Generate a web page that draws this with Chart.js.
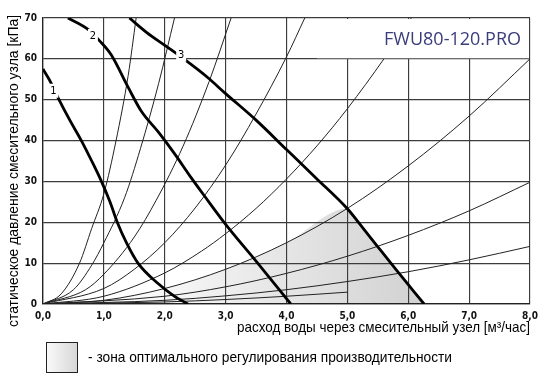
<!DOCTYPE html>
<html>
<head>
<meta charset="utf-8">
<script src="https://cdn.jsdelivr.net/npm/chart.js@4"></script>
<style>
  body { margin: 0; background: #fff; }
</style>
</head>
<body>
<canvas id="graphique" width="550" height="384"></canvas>
<script>
// Axes
const xTicks = [0, 1, 2, 3, 4, 5, 6, 7, 8];
const yTicks = [0, 10, 20, 30, 40, 50, 60, 70];

// Courbes du module (traits épais) 1, 2, 3
const courbe1X = [0.0, 0.1, 0.25, 0.44, 0.63, 0.8, 0.96, 1.1, 1.22, 1.37, 1.56, 1.89, 2.15, 2.38];
const courbe1Y = [57.5, 55, 50.4, 45, 40, 35, 30, 25, 20, 15, 10, 5, 2, 0];
const courbe2X = [0.41, 0.74, 0.93, 1.12, 1.4, 1.61, 1.9, 2.16, 2.43, 2.65, 3.0, 3.5, 4.07];
const courbe2Y = [70, 67.2, 64.4, 61, 53, 47.3, 42, 36.8, 31, 26.5, 19.5, 10.5, 0];
const courbe3X = [1.42, 1.7, 2.05, 2.4, 2.7, 3.0, 3.5, 4.0, 4.5, 5.0, 5.25, 5.5, 5.8, 6.26];
const courbe3Y = [70, 66.5, 62.8, 59, 55.5, 51.5, 45, 37.8, 30.6, 23.3, 18.7, 14, 8.4, 0];

// Courbes du réseau (traits fins)
const reseauAX = [0, 0.3, 0.6, 0.8, 1.0, 1.2, 1.4, 1.53];
const reseauAY = [0, 2.5, 10, 18.5, 27, 40, 56, 70];
const reseauBX = [0, 0.5, 0.8, 1.0, 1.34, 1.6, 1.9, 2.16];
const reseauBY = [0, 3.5, 9.5, 15, 26, 38, 54, 70];
const reseauCX = [0, 0.7, 1.0, 1.5, 1.86, 2.3, 2.73, 3.09];
const reseauCY = [0, 3.5, 7.3, 16.4, 25.4, 38.6, 54.5, 70];
const reseauDX = [0, 1, 1.5, 2, 2.5, 3, 3.5, 4, 4.3];
const reseauDY = [0, 3.8, 8.5, 15, 23.5, 34, 46.5, 60.5, 70];
const reseauEX = [0, 1, 2, 2.6, 3, 3.5, 4, 4.5, 5, 5.6, 6.05];
const reseauEY = [0, 1.9, 7.6, 12.9, 17.2, 23.4, 30.6, 38.7, 47.8, 60, 70];
const reseauFX = [0, 1, 2, 3, 4, 5, 6, 7, 8];
const reseauFY = [0, 0.9, 3.8, 8.5, 15, 23.4, 33.8, 46, 60];
const reseauGX = [0, 2, 3, 4, 5, 6, 7, 8];
const reseauGY = [0, 1.9, 4.2, 7.5, 11.7, 16.8, 22.8, 29.8];
const reseauHX = [0, 2, 3, 4, 5, 6, 7, 8];
const reseauHY = [0, 0.9, 2, 3.5, 5.5, 7.9, 10.8, 14.1];
const reseauIX = [0, 2, 3, 4, 5];
const reseauIY = [0, 0.5, 1.1, 1.9, 2.9];

// Numéros des courbes [x, y, texte]
const numerosCourbes = [[0.17, 52.2, '1'], [0.82, 65.6, '2'], [2.27, 61, '3']];

const titreModele = 'FWU80-120.PRO';
const titreX = 'расход воды через смесительный узел [м³/час]';
const titreY = 'статическое давление смесительного узла [кПа]';
const texteLegende = '- зона оптимального регулирования производительности';

const policeEtroite = '"DejaVu Sans Condensed", "Liberation Sans", sans-serif';

function points(xs, ys) {
    return xs.map((x, i) => ({ x: x, y: ys[i] }));
}

// zone grisée : sous la courbe F jusqu'à la courbe 3
const zoneOptimale = points(reseauFX, reseauFY).filter(p => p.x <= 5)
    .concat(points(courbe3X, courbe3Y).filter(p => p.x > 5));

function fin(xs, ys) {
    return {
        data: points(xs, ys), borderColor: '#222', borderWidth: 1,
        pointRadius: 0, cubicInterpolationMode: 'monotone', fill: false, order: 5
    };
}
function epais(xs, ys) {
    return {
        data: points(xs, ys), borderColor: '#000', borderWidth: 2.8,
        pointRadius: 0, cubicInterpolationMode: 'monotone', fill: false, order: 1
    };
}

const datasets = [
    {
        data: zoneOptimale, borderWidth: 0, pointRadius: 0, cubicInterpolationMode: 'monotone',
        fill: 'origin', order: 10,
        backgroundColor: function (context) {
            const chart = context.chart;
            const ca = chart.chartArea;
            if (!ca) return '#e0e0e0';
            const xs = chart.scales.x;
            const g = chart.ctx.createLinearGradient(xs.getPixelForValue(1.5), 0, xs.getPixelForValue(6.2), 0);
            g.addColorStop(0, '#fbfbfb');
            g.addColorStop(1, '#d2d2d2');
            return g;
        }
    },
    fin(reseauAX, reseauAY), fin(reseauBX, reseauBY), fin(reseauCX, reseauCY),
    fin(reseauDX, reseauDY), fin(reseauEX, reseauEY), fin(reseauFX, reseauFY),
    fin(reseauGX, reseauGY), fin(reseauHX, reseauHY), fin(reseauIX, reseauIY),
    epais(courbe1X, courbe1Y), epais(courbe2X, courbe2Y), epais(courbe3X, courbe3Y)
];

// texte écrit en largeur imposée (police étroite)
function texteAjuste(ctx, txt, largeur, align) {
    const k = largeur / ctx.measureText(txt).width;
    ctx.scale(k, 1);
    ctx.textAlign = align;
    ctx.fillText(txt, 0, 0);
}

const decor = {
    id: 'decor',
    afterDatasetsDraw(chart) {
        const { ctx, chartArea } = chart;
        const xs = chart.scales.x, ys = chart.scales.y;
        ctx.save();
        // cadre blanc du titre en haut à droite
        const x0 = xs.getPixelForValue(4.5);
        const yHaut = ys.getPixelForValue(70), yBas = ys.getPixelForValue(60);
        ctx.fillStyle = '#fff';
        ctx.fillRect(x0, yHaut + 1, chartArea.right - 1 - x0, yBas - yHaut - 1.6);
        ctx.fillStyle = '#3a3d7a';
        ctx.font = '18px "Open Sans", sans-serif';
        ctx.textAlign = 'right';
        ctx.textBaseline = 'middle';
        ctx.fillText(titreModele, chartArea.right - 9, (yHaut + yBas) / 2 + 1);

        // numéros des courbes
        ctx.font = '11px ' + policeEtroite;
        ctx.textAlign = 'center';
        numerosCourbes.forEach(n => {
            const px = xs.getPixelForValue(n[0]), py = ys.getPixelForValue(n[1]);
            ctx.fillStyle = '#fff';
            ctx.fillRect(px - 5, py - 7, 10, 14);
            ctx.fillStyle = '#000';
            ctx.fillText(n[2], px, py);
        });
        ctx.restore();
    },
    afterDraw(chart) {
        const { ctx, chartArea } = chart;
        ctx.save();
        ctx.fillStyle = '#000';
        ctx.font = '15px "Liberation Sans", sans-serif';
        ctx.textBaseline = 'middle';
        // titre axe Y
        ctx.translate(14, 171);
        ctx.rotate(-Math.PI / 2);
        texteAjuste(ctx, titreY, 312, 'center');
        ctx.restore();

        ctx.save();
        ctx.fillStyle = '#000';
        ctx.font = '15px "Liberation Sans", sans-serif';
        ctx.textBaseline = 'middle';
        ctx.translate(chartArea.right, 328);
        texteAjuste(ctx, titreX, 293, 'right');
        ctx.restore();

        // légende
        ctx.save();
        const g = ctx.createLinearGradient(46, 0, 78, 0);
        g.addColorStop(0, '#fafafa');
        g.addColorStop(1, '#d6d6d6');
        ctx.fillStyle = g;
        ctx.fillRect(46.5, 342.5, 31, 30);
        ctx.strokeStyle = '#222';
        ctx.lineWidth = 1;
        ctx.strokeRect(46.5, 342.5, 31, 30);
        ctx.fillStyle = '#000';
        ctx.font = '15px "Liberation Sans", sans-serif';
        ctx.textBaseline = 'middle';
        ctx.translate(88, 358);
        texteAjuste(ctx, texteLegende, 364, 'left');
        ctx.restore();
    }
};

const myChart = new Chart(document.getElementById('graphique').getContext('2d'), {
    type: 'line',
    data: { datasets: datasets },
    options: {
        responsive: false,
        animation: false,
        layout: { padding: { left: 0, top: 18, right: 20, bottom: 60 } },
        plugins: {
            legend: { display: false },
            tooltip: { enabled: false },
            filler: { drawTime: 'beforeDraw' }
        },
        scales: {
            x: {
                type: 'linear', min: 0, max: 8,
                afterFit: s => { s.height = 20; },
                afterBuildTicks: s => { s.ticks = xTicks.map(v => ({ value: v })); },
                grid: { color: '#3c3c3c', lineWidth: 1.15, drawTicks: false },
                border: { color: '#222', width: 1.3 },
                ticks: {
                    padding: 6, color: '#111',
                    font: { family: policeEtroite, size: 10, weight: 'bold' },
                    callback: v => v.toFixed(1).replace('.', ',')
                }
            },
            y: {
                min: 0, max: 70,
                afterFit: s => { s.width = 43; },
                afterBuildTicks: s => { s.ticks = yTicks.map(v => ({ value: v })); },
                grid: { color: '#3c3c3c', lineWidth: 1.15, drawTicks: false },
                border: { color: '#222', width: 1.3 },
                ticks: {
                    padding: 6, color: '#111',
                    font: { family: policeEtroite, size: 10, weight: 'bold' },
                    callback: v => v
                }
            }
        }
    },
    plugins: [decor]
});
</script>
</body>
</html>
